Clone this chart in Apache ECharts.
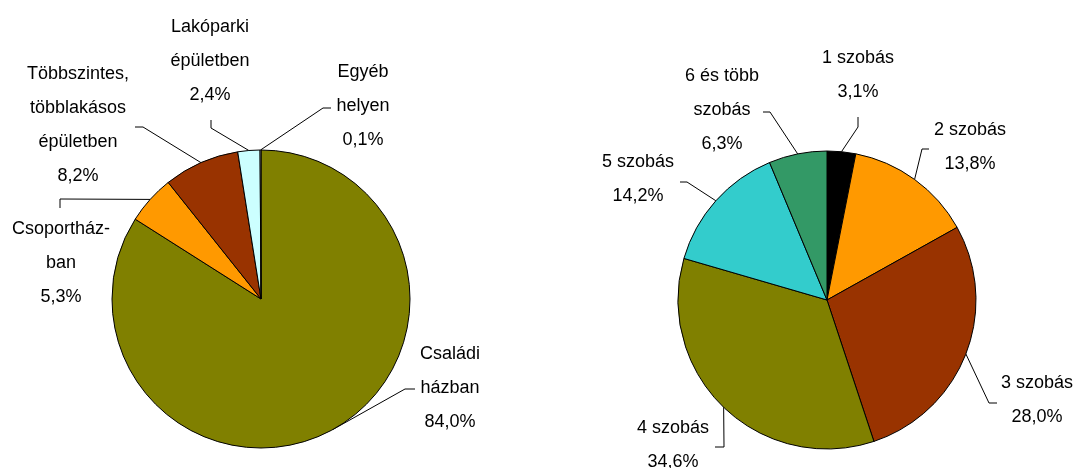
<!DOCTYPE html>
<html>
<head>
<meta charset="utf-8">
<title>Lakások megoszlása</title>
<script src="https://cdn.jsdelivr.net/npm/echarts@6/dist/echarts.min.js"></script>
<style>
  html, body { margin: 0; padding: 0; background: #fff; }
  #chart { width: 1077px; height: 468px; }
</style>
</head>
<body>
<div id="chart"></div>
<script>
// bal oldali kör: épület típusa
var typeNames = ['Családi\nházban', 'Csoportház-\nban', 'Többszintes,\ntöbblakásos\népületben', 'Lakóparki\népületben', 'Egyéb\nhelyen'];
var typeValues = [84.0, 5.3, 8.2, 2.4, 0.1];
var typeColors = ['#808000', '#FF9900', '#993300', '#CCFFFF', '#FFFFFF'];

// jobb oldali kör: szobaszám
var roomNames = ['1 szobás', '2 szobás', '3 szobás', '4 szobás', '5 szobás', '6 és több\nszobás'];
var roomValues = [3.1, 13.8, 28.0, 34.6, 14.2, 6.3];
var roomColors = ['#000000', '#FF9900', '#993300', '#808000', '#33CCCC', '#339966'];

// címkék helye (középpont, px) és a vezetővonal töréspontja + vége
var typeLabelPos = [[450, 388], [61, 263], [78, 125], [210, 61], [363, 106]];
var typeGuide = [[405, 389, 415, 389], [60, 199, 60, 208], [143, 127, 135, 127], [211, 128, 211, 120], [323, 108, 331, 108]];
var roomLabelPos = [[858, 75], [970, 147], [1037, 400], [673, 445], [638, 179], [722, 110]];
var roomGuide = [[858, 127, 858, 117], [922, 149, 929, 149], [989, 403, 997, 403], [724, 447, 715, 447], [687, 182, 680, 182], [770, 112, 763, 112]];

function pct(v) {
    return v.toFixed(1).replace('.', ',') + '%';
}

function makeData(names, values, colors) {
    return names.map(function (n, i) {
        return { name: n, value: values[i], itemStyle: { color: colors[i] } };
    });
}

function makeSeries(center, names, values, colors, pos, guide) {
    return {
        type: 'pie',
        center: center,
        radius: 149,
        startAngle: 90,
        clockwise: true,
        avoidLabelOverlap: false,
        animation: false,
        data: makeData(names, values, colors),
        itemStyle: { borderColor: '#000', borderWidth: 1 },
        label: {
            show: true,
            position: 'outside',
            color: '#000',
            fontFamily: 'Liberation Sans, Arial, sans-serif',
            fontSize: 18,
            lineHeight: 34,
            align: 'center',
            formatter: function (p) { return p.name + '\n' + pct(p.value); }
        },
        labelLine: {
            show: true,
            length: 10,
            length2: 10,
            lineStyle: { color: '#000', width: 1 }
        },
        labelLayout: function (p) {
            var xy = pos[p.dataIndex];
            var g = guide[p.dataIndex];
            var out = { x: xy[0], y: xy[1], align: 'center', verticalAlign: 'middle' };
            if (p.labelLinePoints && p.labelLinePoints[0]) {
                // a vonal a cikk ívének közepéről indul
                out.labelLinePoints = [p.labelLinePoints[0], [g[0], g[1]], [g[2], g[3]]];
            }
            return out;
        },
        emphasis: { disabled: true }
    };
}

var myChart = echarts.init(document.getElementById('chart'));
myChart.setOption({
    backgroundColor: '#fff',
    series: [
        makeSeries([261, 299], typeNames, typeValues, typeColors, typeLabelPos, typeGuide),
        makeSeries([827, 300], roomNames, roomValues, roomColors, roomLabelPos, roomGuide)
    ]
});
</script>
</body>
</html>
